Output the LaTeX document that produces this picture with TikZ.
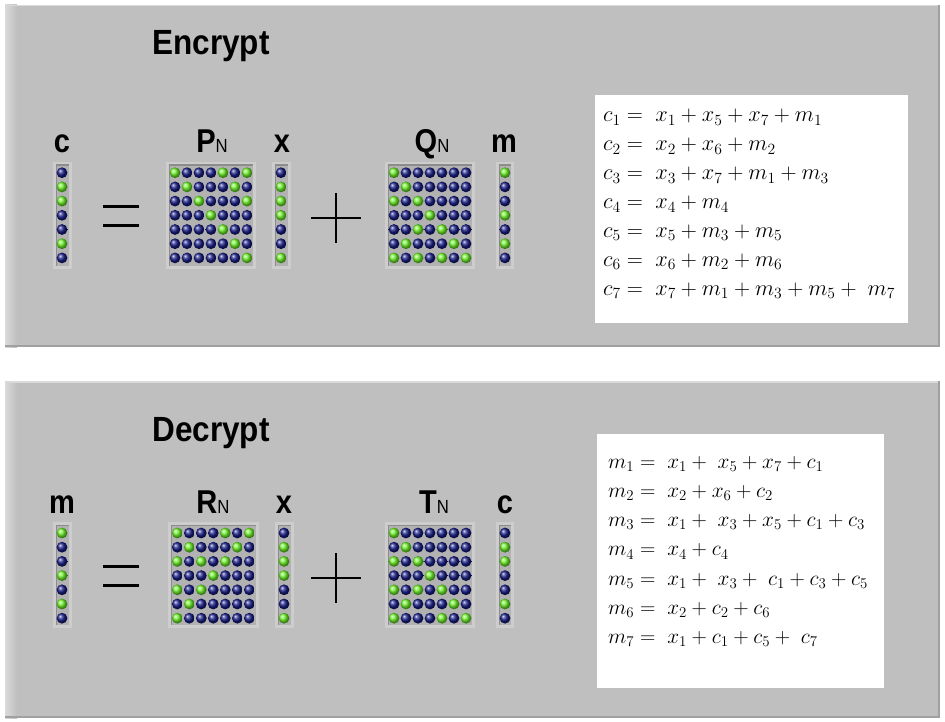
\RequirePackage{fix-cm}
\documentclass[tikz,border=0pt]{standalone}
\usepackage{fontspec}
\newfontfamily\labfont{Liberation Sans}
\definecolor{panelgray}{RGB}{191,191,191}
\definecolor{panellight}{RGB}{218,218,218}
\definecolor{panelshadow}{RGB}{160,160,160}
\definecolor{frameouter}{RGB}{205,205,205}
\definecolor{framedark}{RGB}{140,140,140}
\definecolor{frameinner}{RGB}{178,178,178}
\definecolor{ledgreen}{RGB}{110,245,40}
\definecolor{ledblue}{RGB}{25,30,135}
\tikzset{
  titletext/.style={font=\labfont\bfseries\fontsize{35}{35}\selectfont, xscale=0.9, inner sep=0},
  labtext/.style={font=\labfont\bfseries\fontsize{33}{33}\selectfont, xscale=0.88, inner sep=0, anchor=base},
  eqtextE/.style={font=\fontsize{22.3}{22.3}\selectfont, inner sep=0, anchor=base west},
  eqtextD/.style={font=\fontsize{21.3}{21.3}\selectfont, inner sep=0, anchor=base west},
  eqbox/.style={fill=white, draw=none},
  symline/.style={line width=3pt, black},
  plusline/.style={line width=2pt, black},
  led/.style={circle, inner sep=0pt, minimum size=10.8pt, draw=none},
}
\newcommand{\subN}{{\mdseries\fontsize{19}{19}\selectfont N}}
\newcommand{\mypanel}[2]{%
  \fill[panelgray] (5,#1) rectangle (940,#2);
  \shade[left color=panellight, right color=panelgray] (5,#1) rectangle (17,#2);
  \fill[panellight] (5,#1) rectangle (940,#1+1.5);
  \fill[panelshadow] (5,#2-2) rectangle (940,#2);
  \fill[panelshadow] (938,#1) rectangle (940,#2);
}
\newcommand{\ledframe}[4]{%
  \fill[frameouter] (#1,#2) rectangle (#3,#4);
  \fill[framedark] (#1+2.5,#2+2.5) rectangle (#3-3,#4-3);
  \fill[frameinner] (#1+4,#2+4) rectangle (#3-3,#4-3);
}
\newcommand{\ledgrid}[5]{%
  \foreach \rowpat [count=\i] in {#5} {
    \foreach \v [count=\j] in \rowpat {
      \ifnum\v=1 \def\lc{ledgreen}\else\def\lc{ledblue}\fi
      \node[led, shade, ball color=\lc] (#1-\i-\j) at ({#2+(\j-1)*#4},{#3+(\i-1)*14.2}) {};
    }
  }
}
\begin{document}
\begin{tikzpicture}[x=1pt,y=-1pt]
\useasboundingbox (0,0) rectangle (945,722);
\fill[white] (0,0) rectangle (945,722);

% ---------------- Encrypt panel ----------------
\mypanel{5}{347}
\node[titletext] (encT) at (211,46) {Encrypt};

\node[labtext] (lc1) at (62,153) {c};
\node[labtext] (lP) at (212,153) {P\subN};
\node[labtext] (lx1) at (282,153) {x};
\node[labtext] (lQ) at (432,153) {Q\subN};
\node[labtext] (lm1) at (504,153) {m};

\ledframe{53}{162}{72}{269}
\ledgrid{cE}{62}{172.7}{0}{{0},{1},{1},{0},{0},{1},{0}}

\draw[symline] (103,206.7) -- (139,206.7);
\draw[symline] (103,225.7) -- (139,225.7);

\ledframe{166}{162}{256}{269}
\ledgrid{P}{175}{172.7}{12}{{1,0,0,0,1,0,1},{0,1,0,0,0,1,0},{0,0,1,0,0,0,1},{0,0,0,1,0,0,0},{0,0,0,0,1,0,0},{0,0,0,0,0,1,0},{0,0,0,0,0,0,1}}

\ledframe{272}{162}{291}{269}
\ledgrid{xE}{281}{172.7}{0}{{0},{1},{1},{1},{0},{0},{1}}

\draw[plusline] (311,218) -- (361,218);
\draw[plusline] (336,193) -- (336,243);

\ledframe{385}{162}{475}{269}
\ledgrid{Q}{394}{172.7}{12}{{1,0,0,0,0,0,0},{0,1,0,0,0,0,0},{1,0,1,0,0,0,0},{0,0,0,1,0,0,0},{0,0,1,0,1,0,0},{0,1,0,0,0,1,0},{1,0,1,0,1,0,1}}

\ledframe{496}{162}{514}{269}
\ledgrid{mE}{505}{172.7}{0}{{1},{0},{0},{1},{0},{1},{0}}

\node[eqbox, minimum width=313pt, minimum height=228pt, anchor=north west, inner sep=0] (boxE) at (595,95) {};
\node[eqtextE] (e1) at (603,122.0) {$c_1 =\; x_1 + x_5 + x_7 + m_1$};
\node[eqtextE] (e2) at (603,150.9) {$c_2 =\; x_2 + x_6 + m_2$};
\node[eqtextE] (e3) at (603,179.8) {$c_3 =\; x_3 + x_7 + m_1 + m_3$};
\node[eqtextE] (e4) at (603,208.7) {$c_4 =\; x_4 + m_4$};
\node[eqtextE] (e5) at (603,237.6) {$c_5 =\; x_5 + m_3 + m_5$};
\node[eqtextE] (e6) at (603,266.5) {$c_6 =\; x_6 + m_2 + m_6$};
\node[eqtextE] (e7) at (603,295.4) {$c_7 =\; x_7 + m_1 + m_3 + m_5 +\; m_7$};

% ---------------- Decrypt panel ----------------
\mypanel{381}{718}
\node[titletext] (decT) at (211,433) {Decrypt};

\node[labtext] (lm2) at (62,513) {m};
\node[labtext] (lR) at (213,513) {R\subN};
\node[labtext] (lx2) at (284,513) {x};
\node[labtext] (lT) at (434,513) {T\subN};
\node[labtext] (lc2) at (505,513) {c};

\ledframe{53}{522}{72}{628}
\ledgrid{mD}{62}{533}{0}{{1},{0},{0},{1},{0},{1},{0}}

\draw[symline] (103,566.7) -- (139,566.7);
\draw[symline] (103,585.7) -- (139,585.7);

\ledframe{168}{522}{259}{628}
\ledgrid{R}{177.3}{533}{12}{{1,0,0,0,1,0,1},{0,1,0,0,0,1,0},{1,0,1,0,1,0,0},{0,0,0,1,0,0,0},{1,0,1,0,0,0,0},{0,1,0,0,0,0,0},{1,0,0,0,0,0,0}}

\ledframe{275}{522}{294}{628}
\ledgrid{xD}{284}{533}{0}{{0},{1},{1},{1},{0},{0},{1}}

\draw[plusline] (311,578) -- (361,578);
\draw[plusline] (336,553) -- (336,603);

\ledframe{385}{522}{475}{628}
\ledgrid{T}{394}{533}{12}{{1,0,0,0,0,0,0},{0,1,0,0,0,0,0},{1,0,1,0,0,0,0},{0,0,0,1,0,0,0},{1,0,1,0,1,0,0},{0,1,0,0,0,1,0},{1,0,0,0,1,0,1}}

\ledframe{496}{522}{514}{628}
\ledgrid{cD}{505}{533}{0}{{0},{1},{1},{0},{0},{1},{0}}

\node[eqbox, minimum width=287pt, minimum height=254pt, anchor=north west, inner sep=0] (boxD) at (597,434) {};
\node[eqtextD] (d1) at (608,468.0) {$m_1 =\; x_1 +\; x_5 + x_7 + c_1$};
\node[eqtextD] (d2) at (608,497.3) {$m_2 =\; x_2 + x_6 + c_2$};
\node[eqtextD] (d3) at (608,526.6) {$m_3 =\; x_1 +\; x_3 + x_5 + c_1 + c_3$};
\node[eqtextD] (d4) at (608,555.9) {$m_4 =\; x_4 + c_4$};
\node[eqtextD] (d5) at (608,585.2) {$m_5 =\; x_1 +\; x_3 +\; c_1 + c_3 + c_5$};
\node[eqtextD] (d6) at (608,614.5) {$m_6 =\; x_2 + c_2 + c_6$};
\node[eqtextD] (d7) at (608,643.8) {$m_7 =\; x_1 + c_1 + c_5 +\; c_7$};
\end{tikzpicture}
\end{document}
